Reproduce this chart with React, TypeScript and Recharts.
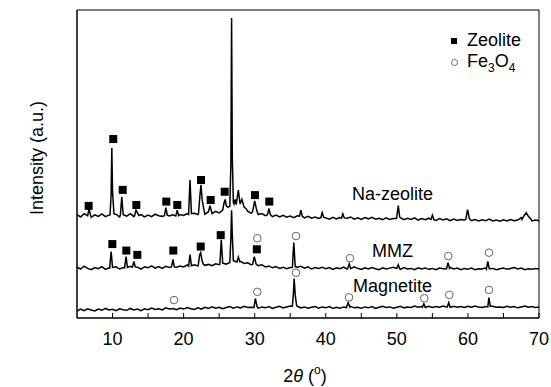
import React from 'react';
import { ComposedChart, Line, Scatter, XAxis, YAxis, ReferenceDot, ReferenceArea } from 'recharts';

const FONT = '"Liberation Sans", Arial, sans-serif';

// baseline samples every 0.5 deg of 2theta, from 5 to 70
const gridStart = 5;
const gridStep = 0.5;

const naBase = [
  33.6, 32.8, 33.9, 33.1, 32.7, 33.5, 33.0, 33.8, 32.9, 33.4,
  33.2, 33.7, 32.8, 33.5, 33.1, 33.9, 32.9, 33.3, 33.6, 32.8,
  33.4, 32.9, 33.7, 33.2, 33.0, 33.8, 33.1, 33.5, 32.8, 33.6,
  33.3, 33.9, 33.4, 34.0, 33.6, 34.2, 33.7, 34.4, 33.9, 34.6,
  34.1, 34.8, 34.5, 35.0, 35.8, 35.2, 34.9, 34.4, 34.7, 34.0,
  34.3, 33.6, 33.9, 33.2, 33.6, 32.9, 33.4, 32.8, 33.3, 32.7,
  33.1, 32.6, 33.2, 32.9, 32.5, 33.0, 32.4, 32.8, 32.3, 32.9,
  32.5, 32.1, 32.7, 32.2, 32.6, 32.0, 32.4, 32.8, 32.1, 32.5,
  32.0, 32.6, 32.2, 32.7, 32.1, 32.4, 31.9, 32.5, 32.0, 32.3,
  32.2, 32.6, 31.9, 32.4, 32.0, 32.5, 31.8, 32.3, 31.9, 32.4,
  32.0, 31.7, 32.3, 31.8, 32.2, 31.6, 32.1, 31.7, 32.0, 31.8,
  32.2, 31.6, 32.0, 31.5, 31.9, 31.6, 32.1, 31.5, 31.8, 31.4,
  31.9, 31.5, 32.0, 31.6, 31.8, 32.6, 32.3, 31.7, 31.5, 31.8,
  31.6,
];

const naPeaks = [
  [[6.5, 33.2], [6.7, 35.5], [6.9, 33.4]],
  [[9.65, 33.5], [9.8, 40], [9.9, 55.2], [10.0, 41], [10.2, 33.8]],
  [[11.1, 33.4], [11.3, 39.3], [11.5, 33.5]],
  [[13.1, 33.2], [13.3, 35.0], [13.5, 34.2], [13.7, 33.3]],
  [[17.3, 33.2], [17.5, 35.8], [17.7, 33.4]],
  [[18.9, 33.1], [19.1, 35.0], [19.3, 33.2]],
  [[20.7, 33.6], [20.9, 44.8], [21.1, 33.9]],
  [[22.1, 34.0], [22.3, 40], [22.45, 43.2], [22.6, 38.5], [22.85, 35.2]],
  [[23.5, 34.5], [23.7, 36.5], [23.9, 34.8]],
  [[25.5, 35.0], [25.7, 37.5], [25.85, 38.5], [26.0, 36.5], [26.2, 36.0]],
  [[26.5, 36.2], [26.65, 50], [26.75, 97.4], [26.85, 52], [27.0, 37.5]],
  [[27.1, 37], [27.25, 38.5], [27.4, 36.8], [27.7, 41.5], [27.95, 37], [28.2, 38.5], [28.5, 36], [28.8, 35.5]],
  [[29.7, 34.5], [30.0, 38], [30.3, 34.8]],
  [[31.8, 33.5], [32.0, 35.6], [32.2, 33.6]],
  [[36.3, 33.1], [36.5, 35.0], [36.7, 33.0]],
  [[39.3, 32.6], [39.5, 34.2], [39.7, 32.7]],
  [[42.2, 32.4], [42.4, 33.8], [42.6, 32.5]],
  [[49.95, 32.3], [50.2, 36.5], [50.4, 32.8]],
  [[54.8, 32.0], [55.0, 33.4], [55.2, 31.9]],
  [[59.7, 32.0], [59.95, 35.2], [60.2, 32.3]],
  [[67.6, 32.0], [67.9, 33.2], [68.2, 34.2], [68.5, 33.0], [68.9, 32.0]],
];

const mmzBase = [
  16.5, 15.9, 16.8, 16.1, 15.7, 16.4, 16.0, 16.7, 15.8, 16.3,
  16.2, 16.6, 15.9, 16.4, 16.0, 16.8, 16.1, 16.5, 15.9, 16.6,
  16.3, 16.9, 16.2, 16.7, 16.1, 16.8, 16.4, 17.0, 16.5, 16.9,
  16.6, 17.2, 16.8, 17.3, 16.9, 17.5, 17.1, 17.4, 17.0, 17.6,
  17.3, 17.8, 17.5, 18.2, 18.6, 18.0, 18.4, 17.7, 17.9, 17.3,
  17.6, 17.0, 17.3, 16.6, 16.9, 16.3, 16.7, 16.1, 16.5, 16.0,
  16.4, 16.0, 16.5, 16.8, 16.2, 16.6, 15.9, 16.4, 16.1, 16.5,
  16.0, 16.4, 15.8, 16.3, 16.0, 16.5, 15.9, 16.2, 16.6, 16.1,
  15.8, 16.3, 15.9, 16.4, 16.0, 15.7, 16.3, 15.9, 16.2, 16.5,
  16.2, 15.8, 16.4, 15.9, 16.1, 15.7, 16.3, 15.9, 16.2, 15.8,
  16.1, 15.7, 16.2, 16.0, 15.8, 16.4, 15.9, 16.2, 15.7, 16.1,
  15.8, 16.2, 15.7, 16.0, 15.9, 16.3, 15.8, 16.1, 15.7, 16.0,
  16.2, 15.8, 16.1, 16.4, 15.9, 16.2, 15.7, 16.0, 15.8, 16.1,
  15.9,
];

const mmzPeaks = [
  [[9.6, 16.2], [9.8, 21.6], [10.0, 16.4]],
  [[11.7, 16.3], [11.9, 19.9], [12.1, 16.4]],
  [[12.8, 16.5], [13.0, 18.4], [13.2, 16.6]],
  [[18.3, 16.6], [18.5, 19.0], [18.7, 16.6]],
  [[20.7, 16.8], [20.9, 20.6], [21.1, 17.0]],
  [[22.05, 17.0], [22.25, 20.5], [22.4, 21.2], [22.6, 18.5], [22.8, 17.4]],
  [[25.1, 17.5], [25.3, 25.4], [25.5, 17.8]],
  [[26.5, 18.0], [26.65, 26], [26.75, 35], [26.85, 27], [27.0, 18.6]],
  [[27.5, 18.2], [27.7, 19.8], [27.9, 18.3]],
  [[29.7, 17.4], [29.95, 19.9], [30.2, 17.5]],
  [[35.3, 16.4], [35.5, 24.5], [35.7, 16.7]],
  [[43.1, 16.1], [43.3, 17.6], [43.5, 16.0]],
  [[50.0, 16.1], [50.2, 17.3], [50.4, 16.0]],
  [[57.0, 16.0], [57.2, 18.0], [57.4, 16.1]],
  [[62.6, 15.9], [62.8, 18.4], [63.0, 16.0]],
];

const magBase = [
  2.2, 2.9, 2.4, 3.0, 2.6, 2.3, 2.9, 2.5, 3.1, 2.6,
  2.8, 2.4, 3.0, 2.7, 2.5, 3.1, 2.6, 2.9, 2.4, 3.0,
  2.7, 3.2, 2.8, 3.0, 2.6, 3.3, 2.9, 3.1, 2.7, 3.2,
  2.9, 3.4, 3.0, 2.8, 3.3, 2.9, 3.5, 3.1, 3.6, 3.2,
  3.5, 3.0, 3.4, 3.7, 3.2, 3.6, 3.3, 3.8, 3.4, 3.5,
  3.7, 3.2, 3.6, 3.3, 3.7, 3.1, 3.5, 3.8, 3.3, 3.6,
  3.9, 3.4, 3.8, 3.3, 3.6, 3.2, 3.5, 3.7, 3.2, 3.6,
  3.3, 3.7, 3.1, 3.5, 3.2, 3.6, 3.4, 3.8, 3.3, 3.5,
  3.2, 3.6, 3.3, 3.7, 3.1, 3.5, 3.8, 3.4, 3.6, 3.2,
  3.5, 3.8, 3.3, 3.6, 3.4, 3.9, 3.5, 3.7, 3.3, 3.8,
  3.4, 3.7, 3.5, 3.9, 3.6, 3.3, 3.8, 3.5, 3.7, 3.4,
  3.8, 3.5, 3.9, 3.6, 3.4, 3.7, 3.3, 3.8, 3.5, 3.6,
  3.4, 3.8, 3.5, 3.7, 3.3, 3.6, 3.9, 3.5, 3.7, 3.4,
  3.6,
];

const magPeaks = [
  [[29.9, 3.4], [30.1, 6.3], [30.35, 3.6]],
  [[35.3, 3.8], [35.45, 8], [35.55, 12.8], [35.7, 7.5], [35.9, 4.0]],
  [[42.9, 3.4], [43.15, 5.0], [43.4, 3.5]],
  [[53.6, 3.5], [53.8, 4.6], [54.0, 3.4]],
  [[57.1, 3.6], [57.3, 5.0], [57.5, 3.5]],
  [[62.8, 3.6], [62.95, 6.6], [63.15, 3.8]],
];

// phase markers [2theta, height]
const zeoliteMarks = [
  [6.64, 36.4], [10.1, 58.1], [11.43, 41.6], [13.35, 36.7], [17.56, 37.8], [19.11, 36.7],
  [22.45, 44.8], [23.81, 38.3], [25.78, 41.0], [30.04, 39.9], [32.05, 37.8],
  [9.97, 24.0], [11.94, 21.9], [13.49, 20.5], [18.55, 21.9], [22.4, 23.2], [25.22, 26.9], [30.3, 22.3],
];

const magnetiteMarks = [
  [30.37, 25.9], [35.81, 26.6], [43.4, 19.4], [57.24, 20.1], [62.96, 21.2],
  [18.65, 5.8], [30.37, 8.5], [35.81, 14.7], [43.27, 6.7], [53.86, 6.4], [57.38, 7.5], [62.96, 9.1],
];

const seriesNames = ['Na-zeolite', 'MMZ', 'Magnetite'];
const namePositions = [[49.4, 40.3], [49.4, 21.8], [49.4, 10.4]];

const xTicks = [10, 15, 20, 25, 30, 35, 40, 45, 50, 55, 60, 65, 70];
const xLabels = [10, 20, 30, 40, 50, 60, 70];

function buildTrace(base: number[], peaks: number[][][]) {
  const pts = base
    .map((y, i) => ({ x: gridStart + i * gridStep, y }))
    .filter(p => !peaks.some(pk => p.x >= pk[0][0] && p.x <= pk[pk.length - 1][0]));
  peaks.forEach(pk => pk.forEach(([x, y]) => pts.push({ x, y })));
  return pts.sort((a, b) => a.x - b.x);
}

const naData = buildTrace(naBase, naPeaks);
const mmzData = buildTrace(mmzBase, mmzPeaks);
const magData = buildTrace(magBase, magPeaks);
const zeoData = zeoliteMarks.map(([x, y]) => ({ x, y }));
const feData = magnetiteMarks.map(([x, y]) => ({ x, y }));

const XTick = (props: any) => {
  const { x, y, payload } = props;
  return (
    <g>
      <line x1={x} x2={x} y1={y} y2={y - 5} stroke="#000" />
      {xLabels.includes(payload.value) && (
        <text x={x} y={y + 27} textAnchor="middle" fontSize={18} fontFamily={FONT} fill="#000">
          {payload.value}
        </text>
      )}
    </g>
  );
};

const Square = (props: any) => (
  <rect x={props.cx - 4} y={props.cy - 4} width={8} height={8} fill="#000" />
);

const OpenCircle = (props: any) => (
  <circle cx={props.cx} cy={props.cy} r={3.8} fill="none" stroke="#666" strokeWidth={1} />
);

// legend sits over the plot, top right
const LegendBox = () => (
  <div style={{ position: 'absolute', left: 451, top: 30, fontFamily: FONT, fontSize: 18, color: '#000', lineHeight: '21px' }}>
    <div>
      <span style={{ display: 'inline-block', width: 6, height: 6, background: '#000', marginRight: 10, verticalAlign: 'middle' }} />
      Zeolite
    </div>
    <div>
      <span style={{ display: 'inline-block', width: 5, height: 5, border: '1px solid #666', borderRadius: '50%', marginRight: 9, verticalAlign: 'middle' }} />
      Fe<sub style={{ fontSize: 12 }}>3</sub>O<sub style={{ fontSize: 12 }}>4</sub>
    </div>
  </div>
);

export default function App() {
  return (
    <div style={{ position: 'absolute', left: 0, top: 0, width: 551, height: 387, background: '#fff' }}>
      <ComposedChart width={551} height={387} margin={{ top: 10, right: 12, left: 0, bottom: 0 }}>
        <XAxis
          dataKey="x"
          type="number"
          domain={[5, 70]}
          ticks={xTicks}
          interval={0}
          tickSize={0}
          tickMargin={0}
          tickLine={false}
          tick={<XTick />}
          height={69}
          axisLine={{ stroke: '#000' }}
          label={{
            content: () => (
              <text x={305} y={382} textAnchor="middle" fontSize={18} fontFamily={FONT} fill="#000">
                2<tspan fontStyle="italic">θ</tspan> (<tspan fontSize={12} dy={-8}>o</tspan><tspan dy={8}>)</tspan>
              </text>
            ),
          }}
        />
        <YAxis
          type="number"
          domain={[0, 100]}
          width={77}
          tick={false}
          tickLine={false}
          axisLine={{ stroke: '#000' }}
          label={{
            content: () => (
              <text x={37} y={158} transform="rotate(-90 37 158)" textAnchor="middle" dominantBaseline="central" fontSize={18} fontFamily={FONT} fill="#000">
                Intensity (a.u.)
              </text>
            ),
          }}
        />
        <ReferenceArea x1={5} x2={70} y1={0} y2={100} fill="none" stroke="#000" strokeWidth={1} ifOverflow="visible" />
        <Line data={naData} dataKey="y" stroke="#000" strokeWidth={1.5} dot={false} isAnimationActive={false} legendType="none" />
        <Line data={mmzData} dataKey="y" stroke="#000" strokeWidth={1.5} dot={false} isAnimationActive={false} legendType="none" />
        <Line data={magData} dataKey="y" stroke="#000" strokeWidth={1.5} dot={false} isAnimationActive={false} legendType="none" />
        <Scatter data={zeoData} dataKey="y" shape={<Square />} isAnimationActive={false} legendType="none" />
        <Scatter data={feData} dataKey="y" shape={<OpenCircle />} isAnimationActive={false} legendType="none" />
        {seriesNames.map((name, i) => (
          <ReferenceDot
            key={name}
            x={namePositions[i][0]}
            y={namePositions[i][1]}
            r={0}
            fill="none"
            stroke="none"
            label={{ value: name, position: 'center', fontSize: 18, fontFamily: FONT, fill: '#000' }}
          />
        ))}
      </ComposedChart>
      <LegendBox />
    </div>
  );
}
